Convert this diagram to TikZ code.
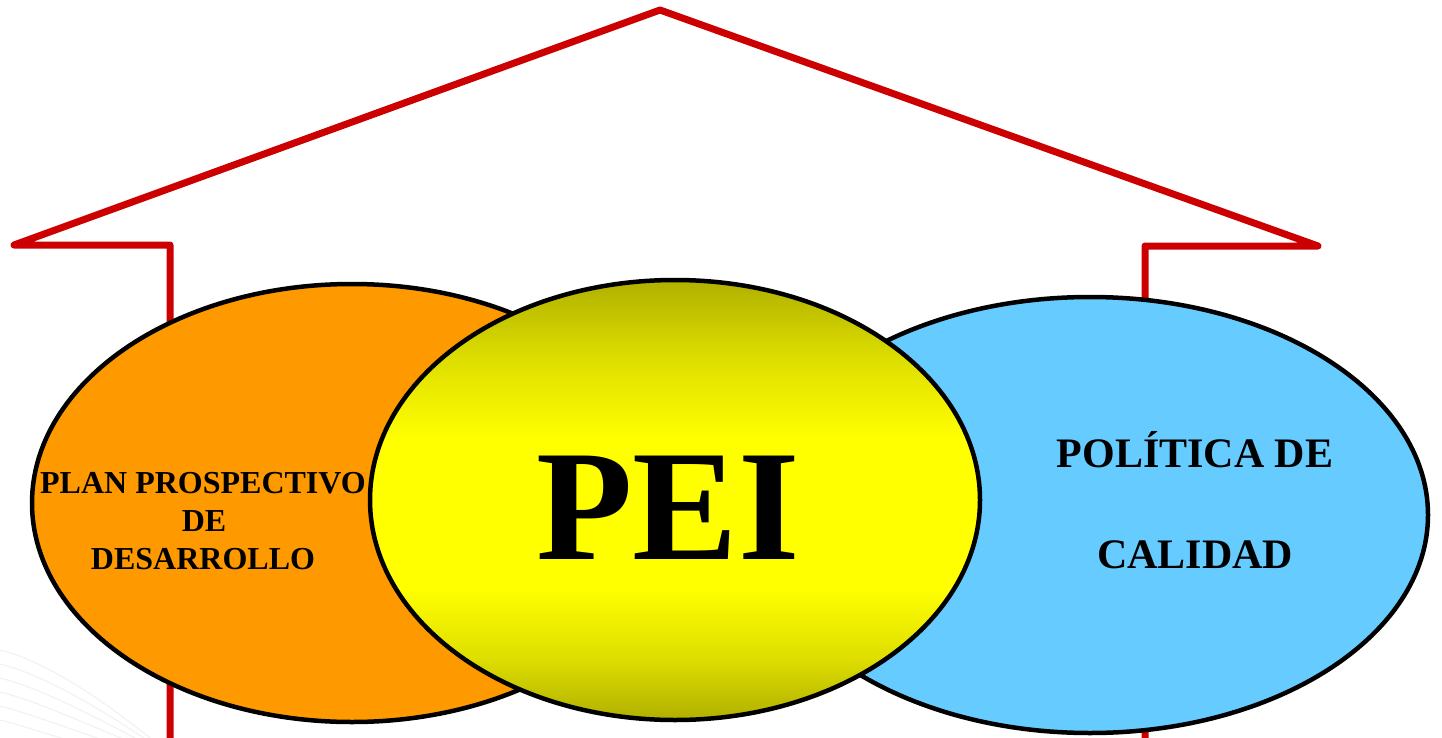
\documentclass[tikz,border=0pt]{standalone}
\usepackage{fontspec}
\setmainfont{Liberation Serif}
\usetikzlibrary{shapes.geometric}
\definecolor{houseRed}{RGB}{204,0,0}
\definecolor{planOrange}{RGB}{255,153,0}
\definecolor{calBlue}{RGB}{102,204,255}
\definecolor{peiDark}{RGB}{176,176,0}
\definecolor{peiMid}{RGB}{222,222,0}
\definecolor{peiYellow}{RGB}{255,255,0}
\pgfdeclareverticalshading{peishade}{100bp}{color(0bp)=(peiDark); color(25bp)=(peiDark); color(32bp)=(peiMid); color(40bp)=(peiYellow); color(57bp)=(peiYellow); color(66bp)=(peiMid); color(75bp)=(peiDark); color(100bp)=(peiDark)}
\tikzset{
  houseline/.style={draw=houseRed, line width=7pt, line join=round, line cap=round},
  bubble/.style={ellipse, draw=black, line width=4.5pt, inner sep=0pt},
  lbl/.style={anchor=base, inner sep=0pt, font=\bfseries\fontsize{32}{38}\selectfont},
  lblbig/.style={anchor=base, inner sep=0pt, font=\bfseries\fontsize{42}{50}\selectfont},
  bgline/.style={draw=black!5, line width=1.2pt}
}
\begin{document}
\begin{tikzpicture}[x=1pt,y=-1pt]
\useasboundingbox (0,0) rectangle (1442,738);
% faint background lines
\foreach \k in {0,...,5}{
  \draw[bgline] (0,{650+\k*14}) .. controls (40,{660+\k*14}) and (90,{690+\k*12}) .. (150,{738+\k*4});
}
% house outline
\coordinate (lb) at (170,738);
\coordinate (lc) at (170,245);
\coordinate (le) at (14,245);
\coordinate (apex) at (660,10);
\coordinate (re) at (1318,246);
\coordinate (rc) at (1145,246);
\coordinate (rb) at (1145,738);
\draw[houseline] (lb) -- (lc) -- (le) -- (apex) -- (re) -- (rc) -- (rb);
% bubbles
\node[bubble, fill=planOrange, minimum width=640pt, minimum height=438pt] (plan) at (352,503) {};
\node[bubble, fill=calBlue, minimum width=676pt, minimum height=436pt] (cal) at (1090,515) {};
\node[bubble, shading=peishade, minimum width=610pt, minimum height=440pt] (pei) at (675,500) {};
% texts
\node[lbl] (t1) at (203,493) {PLAN PROSPECTIVO};
\node[lbl] (t2) at (204,531) {DE};
\node[lbl] (t3) at (203,569) {DESARROLLO};
\node[lblbig] (c1) at (1195,467) {POLÍTICA DE};
\node[lblbig] (c2) at (1195,568) {CALIDAD};
\node[anchor=base, inner sep=0pt, font=\bfseries\fontsize{158}{160}\selectfont] (peitxt) at (668,559) {PEI};
\end{tikzpicture}
\end{document}
